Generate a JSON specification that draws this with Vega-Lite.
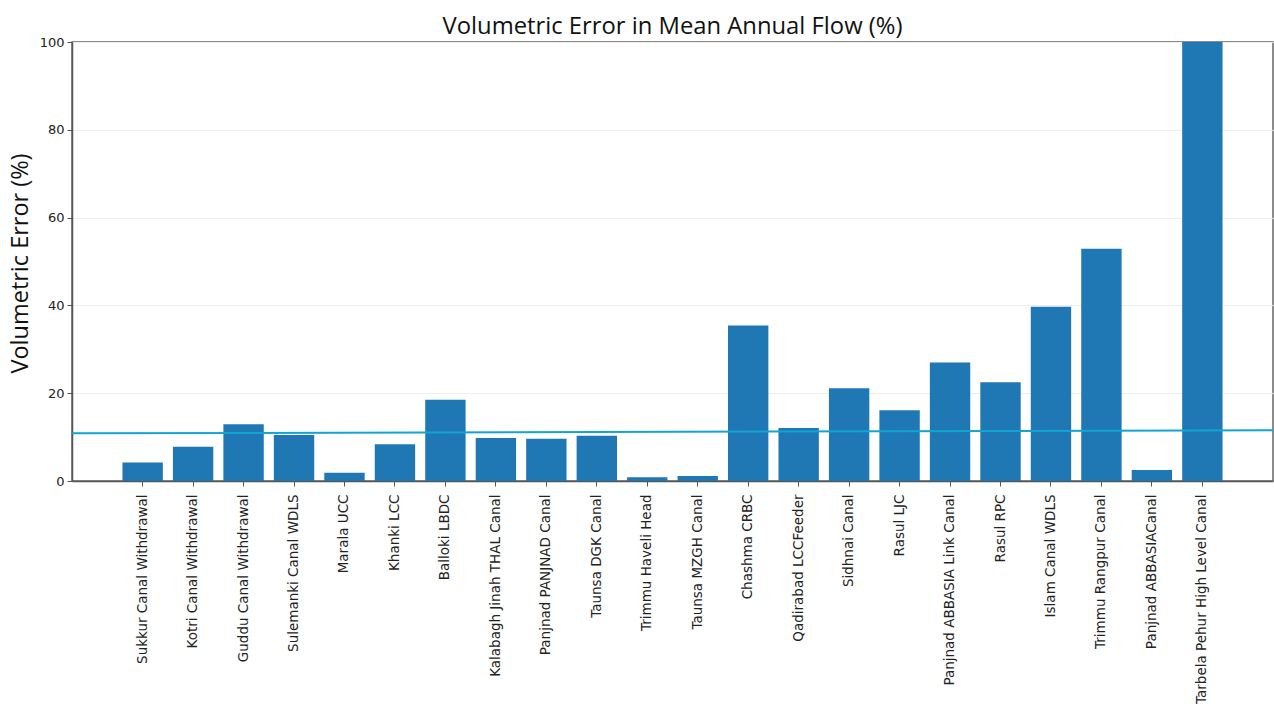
{
  "$schema": "https://vega.github.io/schema/vega-lite/v6.json",
  "autosize": {"type": "none"},
  "padding": {"left": 72, "top": 42, "right": 1, "bottom": 225},
  "width": 1201,
  "height": 439,
  "background": "white",
  "config": {
    "view": {"stroke": "#666", "strokeWidth": 1.5},
    "axis": {"labelFont": "DejaVu Sans", "labelFontSize": 13, "labelColor": "#222", "domainColor": "#555", "domainWidth": 1.5, "tickColor": "#555", "tickSize": 5}
  },
  "title": {"text": "Volumetric Error in Mean Annual Flow (%)", "font": "Open Sans", "fontSize": 23.8, "fontWeight": "normal", "color": "#111", "anchor": "middle", "frame": "group", "offset": -27, "baseline": "bottom"},
  "datasets": {
    "bars": [
      {"site": "Sukkur Canal Withdrawal", "error": 4.2},
      {"site": "Kotri Canal Withdrawal", "error": 7.8},
      {"site": "Guddu Canal Withdrawal", "error": 12.9},
      {"site": "Sulemanki Canal WDLS", "error": 10.5},
      {"site": "Marala UCC", "error": 1.9},
      {"site": "Khanki LCC", "error": 8.35},
      {"site": "Balloki LBDC", "error": 18.5},
      {"site": "Kalabagh Jinah THAL Canal", "error": 9.8},
      {"site": "Panjnad PANJNAD Canal", "error": 9.6},
      {"site": "Taunsa DGK Canal", "error": 10.3},
      {"site": "Trimmu Haveli Head", "error": 0.85},
      {"site": "Taunsa MZGH Canal", "error": 1.15},
      {"site": "Chashma CRBC", "error": 35.4},
      {"site": "Qadirabad LCCFeeder", "error": 12.1},
      {"site": "Sidhnai Canal", "error": 21.1},
      {"site": "Rasul LJC", "error": 16.1},
      {"site": "Panjnad ABBASIA Link Canal", "error": 27.0},
      {"site": "Rasul RPC", "error": 22.5},
      {"site": "Islam  Canal WDLS", "error": 39.7},
      {"site": "Trimmu Rangpur Canal", "error": 52.9},
      {"site": "Panjnad ABBASIACanal", "error": 2.5},
      {"site": "Tarbela Pehur High Level Canal", "error": 100}
    ],
    "trend": [
      {"t": 0, "error": 10.85},
      {"t": 1, "error": 11.55}
    ]
  },
  "layer": [
    {
      "data": {"name": "bars"},
      "mark": {"type": "bar", "color": "#1f77b4", "clip": true},
      "encoding": {
        "x": {"field": "site", "type": "nominal", "sort": null,
              "scale": {"paddingInner": 0.2, "paddingOuter": 1.11},
              "axis": {"title": null, "labelAngle": -90, "labelPadding": 8, "labelFontSize": 13.5, "domain": true, "grid": false, "labelLimit": 300}},
        "y": {"field": "error", "type": "quantitative",
              "scale": {"domain": [0, 100], "nice": false},
              "axis": {"title": "Volumetric Error (%)", "titleFont": "Open Sans", "titleFontSize": 23.5, "titleFontWeight": "normal", "titleColor": "#111",
                       "titleAngle": -90, "titleAlign": "center", "titleBaseline": "middle", "titleX": -52, "titleY": 221,
                       "values": [0, 20, 40, 60, 80, 100], "grid": true, "gridColor": "#eeeeee", "gridWidth": 1, "labelPadding": 3}}
      }
    },
    {
      "data": {"name": "trend"},
      "mark": {"type": "line", "color": "#12a5d2", "strokeWidth": 2},
      "encoding": {
        "x": {"field": "t", "type": "quantitative", "scale": {"domain": [0, 1], "nice": false}, "axis": null},
        "y": {"field": "error", "type": "quantitative"}
      }
    }
  ],
  "resolve": {"scale": {"x": "independent"}}
}
